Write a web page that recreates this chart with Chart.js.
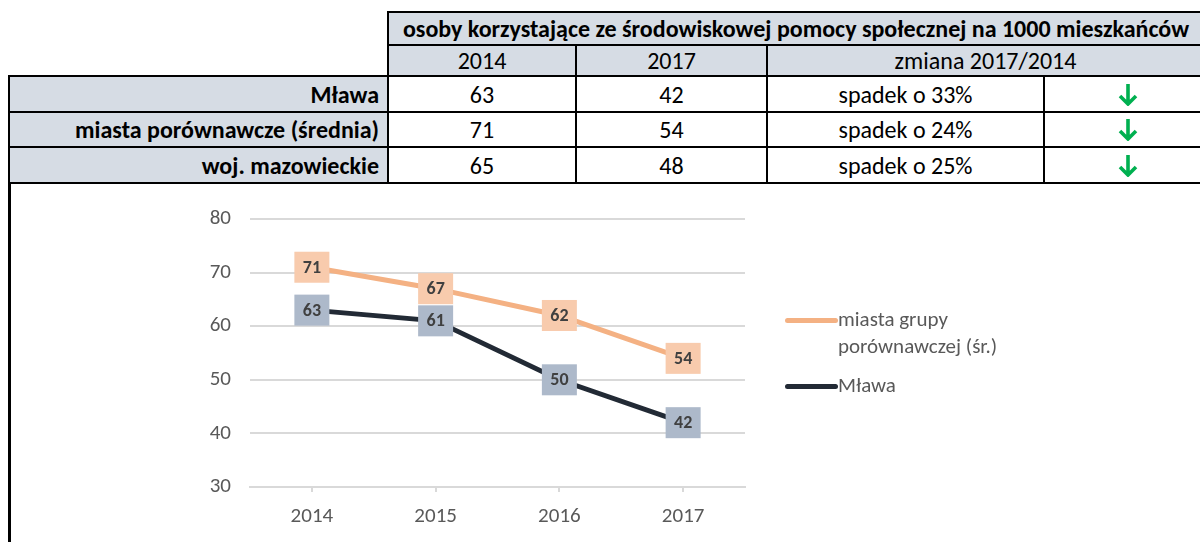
<!DOCTYPE html>
<html lang="pl">
<head>
<meta charset="utf-8">
<title>Mława – środowiskowa pomoc społeczna</title>
<script src="https://cdn.jsdelivr.net/npm/chart.js@4/dist/chart.umd.min.js"></script>
<style>
  html, body { margin: 0; padding: 0; background: #fff; }
  body { width: 1200px; height: 542px; position: relative; overflow: hidden; font-family: Carlito, Lato, sans-serif; }
  .cell { position: absolute; box-sizing: border-box; border: 2px solid #000; display: flex; align-items: center; justify-content: center; font-size: 24px; color: #000; white-space: nowrap; }
  .cell svg { flex: none; display: block; }
  .head { background: #D6DCE4; }
  .lab { background: #D6DCE4; font-weight: bold; justify-content: flex-end; padding-right: 8px; }
  #chartBox { position: absolute; left: 8px; top: 182px; width: 1192px; height: 360px; border-left: 3px solid #000; box-sizing: border-box; }
  #legend { position: absolute; left: 785px; top: 306px; font-size: 21px; color: #595959; line-height: 27px; }
  .li { display: flex; align-items: flex-start; margin-bottom: 12px; }
  .sw { width: 53px; height: 5px; border-radius: 3px; margin-top: 12px; flex: none; }
  .tx { width: 185px; }
</style>
</head>
<body>
<div id="table"></div>
<div id="chartBox"><canvas id="wykres"></canvas></div>
<div id="legend"></div>

<script>
// tabela
var wiersze = ["Mława", "miasta porównawcze (średnia)", "woj. mazowieckie"];
var wartosci2014 = [63, 71, 65];
var wartosci2017 = [42, 54, 48];
var zmiany = ["spadek o 33%", "spadek o 24%", "spadek o 25%"];

// wykres
var lata = ["2014", "2015", "2016", "2017"];
var miastaGrupy = [71, 67, 62, 54];
var mlawa = [63, 61, 50, 42];

var arrowSvg = '<svg width="22" height="23" viewBox="0 0 22 23" style="margin-left:8px"><path d="M11 1 V21 M3 13 L11 21 L19 13" stroke="#00B050" stroke-width="3.6" fill="none"/></svg>';

function cell(x0, x1, y0, y1, html, cls) {
  var d = document.createElement("div");
  d.className = "cell " + (cls || "");
  d.style.left = (x0 - 1) + "px";
  d.style.top = (y0 - 1) + "px";
  d.style.width = (x1 - x0 + 2) + "px";
  d.style.height = (y1 - y0 + 2) + "px";
  d.innerHTML = html;
  document.getElementById("table").appendChild(d);
  return d;
}

cell(388, 1204, 12, 45, "osoby korzystające ze środowiskowej pomocy społecznej na 1000 mieszkańców", "head").style.fontWeight = "bold";
cell(388, 576, 45, 76, "2014", "head");
cell(576, 767, 45, 76, "2017", "head");
cell(767, 1204, 45, 76, "zmiana 2017/2014", "head");

var rowY = [76, 112, 147, 183];
for (var i = 0; i < wiersze.length; i++) {
  var y0 = rowY[i], y1 = rowY[i + 1];
  cell(9, 388, y0, y1, wiersze[i], "lab");
  cell(388, 576, y0, y1, wartosci2014[i]);
  cell(576, 767, y0, y1, wartosci2017[i]);
  cell(767, 1044, y0, y1, zmiany[i]);
  cell(1044, 1204, y0, y1, arrowSvg);
}

// etykiety danych w prostokątach
var boxLabels = {
  id: "boxLabels",
  afterDatasetsDraw: function(chart) {
    var ctx = chart.ctx;
    ctx.save();
    chart.data.datasets.forEach(function(ds, i) {
      var meta = chart.getDatasetMeta(i);
      meta.data.forEach(function(pt, j) {
        ctx.fillStyle = ds.labelBg;
        ctx.fillRect(pt.x - 17.5, pt.y - 15.5, 35, 31);
        ctx.fillStyle = "#404040";
        ctx.font = "bold 18px Carlito, Lato, sans-serif";
        ctx.textAlign = "center";
        ctx.textBaseline = "middle";
        ctx.fillText(ds.data[j], pt.x, pt.y + 1);
      });
    });
    ctx.restore();
  }
};

var ctx = document.getElementById("wykres");
var chart = new Chart(ctx, {
  type: "line",
  data: {
    labels: lata,
    datasets: [
      {
        label: "miasta grupy porównawczej (śr.)",
        data: miastaGrupy,
        borderColor: "#F4B183",
        labelBg: "#F8CBAD",
        borderWidth: 5,
        pointRadius: 0,
        tension: 0,
        fill: false
      },
      {
        label: "Mława",
        data: mlawa,
        borderColor: "#222A35",
        labelBg: "#ADB9CA",
        borderWidth: 5,
        pointRadius: 0,
        tension: 0,
        fill: false
      }
    ]
  },
  options: {
    responsive: true,
    maintainAspectRatio: false,
    animation: false,
    layout: { padding: { left: 179, right: 455, top: 37, bottom: 15 } },
    plugins: { legend: { display: false }, tooltip: { enabled: false } },
    scales: {
      x: {
        offset: true,
        afterFit: function(s) { s.height = 40; },
        grid: { drawOnChartArea: false, tickLength: 5, color: "#D9D9D9", lineWidth: 2 },
        border: { color: "#D9D9D9", width: 2 },
        ticks: { padding: 12, color: "#595959", font: { family: "Carlito, Lato, sans-serif", size: 21 } }
      },
      y: {
        min: 30,
        max: 80,
        afterFit: function(s) { s.width = 60; },
        grid: { drawTicks: false, color: "#D9D9D9", lineWidth: 2 },
        border: { display: false },
        ticks: { stepSize: 10, padding: 19, color: "#595959", font: { family: "Carlito, Lato, sans-serif", size: 21 } }
      }
    }
  },
  plugins: [boxLabels]
});

// legenda
var leg = document.getElementById("legend");
chart.data.datasets.forEach(function(ds) {
  var it = document.createElement("div");
  it.className = "li";
  it.innerHTML = '<span class="sw" style="background:' + ds.borderColor + '"></span><span class="tx">' + ds.label + '</span>';
  leg.appendChild(it);
});
</script>
</body>
</html>
